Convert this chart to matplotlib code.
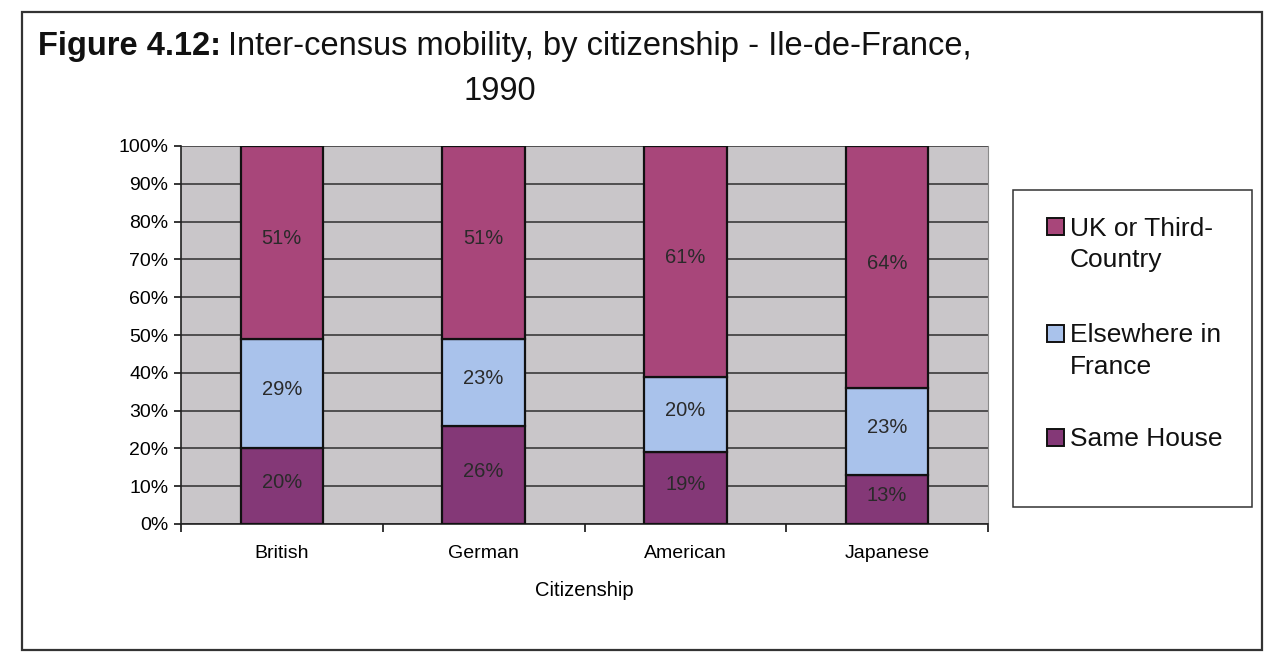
import numpy as np
import matplotlib
matplotlib.use("Agg")
import matplotlib.pyplot as plt
from matplotlib.patches import Rectangle
from matplotlib.ticker import PercentFormatter, FixedLocator

plt.rcParams['font.family'] = ['Liberation Sans', 'DejaVu Sans']

# mobility shares by citizenship (%)
countries = ["British", "German", "American", "Japanese"]
same_house = [20, 26, 19, 13]
elsewhere_france = [29, 23, 20, 23]
uk_third = [51, 51, 61, 64]

series_names = ["Same House", "Elsewhere in France", "UK or Third-Country"]
legend_lines = {"UK or Third-Country": ["UK or Third-", "Country"],
                "Elsewhere in France": ["Elsewhere in", "France"],
                "Same House": ["Same House"]}
colors = {"Same House": "#843877",
          "Elsewhere in France": "#a9c2eb",
          "UK or Third-Country": "#a8467a"}

W, H = 1272, 668
fig = plt.figure(figsize=(W / 100, H / 100), dpi=100)
fig.patch.set_facecolor("white")


def fx(px):
    return px / W


def fy(py):
    return 1 - py / H


# outer frame round the whole figure
fig.add_artist(Rectangle((fx(22), fy(650)), fx(1262 - 22), (650 - 12) / H,
                         transform=fig.transFigure, fill=False,
                         edgecolor="#333333", linewidth=1.6))

ax = fig.add_axes([fx(181), fy(524), fx(988 - 181), (524 - 146) / H])
ax.set_facecolor("#c9c6c9")

x = np.arange(len(countries))
bottom = np.zeros(len(countries))
for name, vals in zip(series_names, [same_house, elsewhere_france, uk_third]):
    vals = np.array(vals, dtype=float)
    bars = ax.bar(x, vals, width=0.41, bottom=bottom, color=colors[name],
                  edgecolor="#111111", linewidth=1.6, zorder=3)
    for b, v in zip(bars, vals):
        ax.text(b.get_x() + b.get_width() / 2, b.get_y() + v / 2 + 1,
                f"{int(v)}%", ha="center", va="center", fontsize=14.5,
                color="#2a2a2a", zorder=4)
    bottom += vals

ax.set_xlim(-0.5, len(countries) - 0.5)
ax.set_ylim(0, 100)
ax.yaxis.set_major_locator(FixedLocator(np.arange(0, 101, 10)))
ax.yaxis.set_major_formatter(PercentFormatter(decimals=0))
ax.grid(axis="y", color="#2e2e2e", linewidth=1.1, zorder=1)
ax.set_axisbelow(True)

ax.set_xticks(x)
ax.set_xticklabels(countries, fontsize=14)
ax.xaxis.set_minor_locator(FixedLocator(np.arange(-0.5, len(countries), 1.0)))
ax.tick_params(axis="x", which="major", length=0, pad=15)
ax.tick_params(axis="x", which="minor", length=6, direction="out", width=1.1)
ax.tick_params(axis="y", length=5, width=1.1, labelsize=14, pad=4)
ax.set_xlabel("Citizenship", fontsize=14.5, labelpad=14)

for side in ["left", "bottom"]:
    ax.spines[side].set_color("#222222")
    ax.spines[side].set_linewidth(1.2)
ax.spines["top"].set_visible(False)
ax.spines["right"].set_color("#8a8a8a")

# legend box, drawn by hand so the swatch sits on the first text line
fig.add_artist(Rectangle((fx(1013), fy(507)), fx(1252 - 1013), (507 - 190) / H,
                         transform=fig.transFigure, fill=False,
                         edgecolor="#333333", linewidth=1.1))
entry_centres = {"UK or Third-Country": 226, "Elsewhere in France": 333,
                 "Same House": 437}
sw = 17
for name in reversed(series_names):
    cy = entry_centres[name]
    fig.add_artist(Rectangle((fx(1047), fy(cy + sw / 2)), fx(sw), sw / H,
                             transform=fig.transFigure, facecolor=colors[name],
                             edgecolor="#111111", linewidth=1.4))
    for i, line in enumerate(legend_lines[name]):
        fig.text(fx(1070), fy(cy + 9.5 + 31 * i), line, fontsize=19,
                 ha="left", va="baseline", color="#111111")

# title: bold figure number followed by plain text
renderer = fig.canvas.get_renderer()
t1 = fig.text(fx(38), fy(55), "Figure 4.12:", fontsize=23.5, fontweight="bold",
              ha="left", va="baseline", color="#111111")
bb = t1.get_window_extent(renderer=renderer).transformed(fig.transFigure.inverted())
fig.text(bb.x1 + fx(7), fy(55), "Inter-census mobility, by citizenship - Ile-de-France,",
         fontsize=23.5, ha="left", va="baseline", color="#111111")
fig.text(fx(500), fy(100), "1990", fontsize=23.5, ha="center", va="baseline",
         color="#111111")

fig.savefig("out.png", dpi=100, facecolor="white")
